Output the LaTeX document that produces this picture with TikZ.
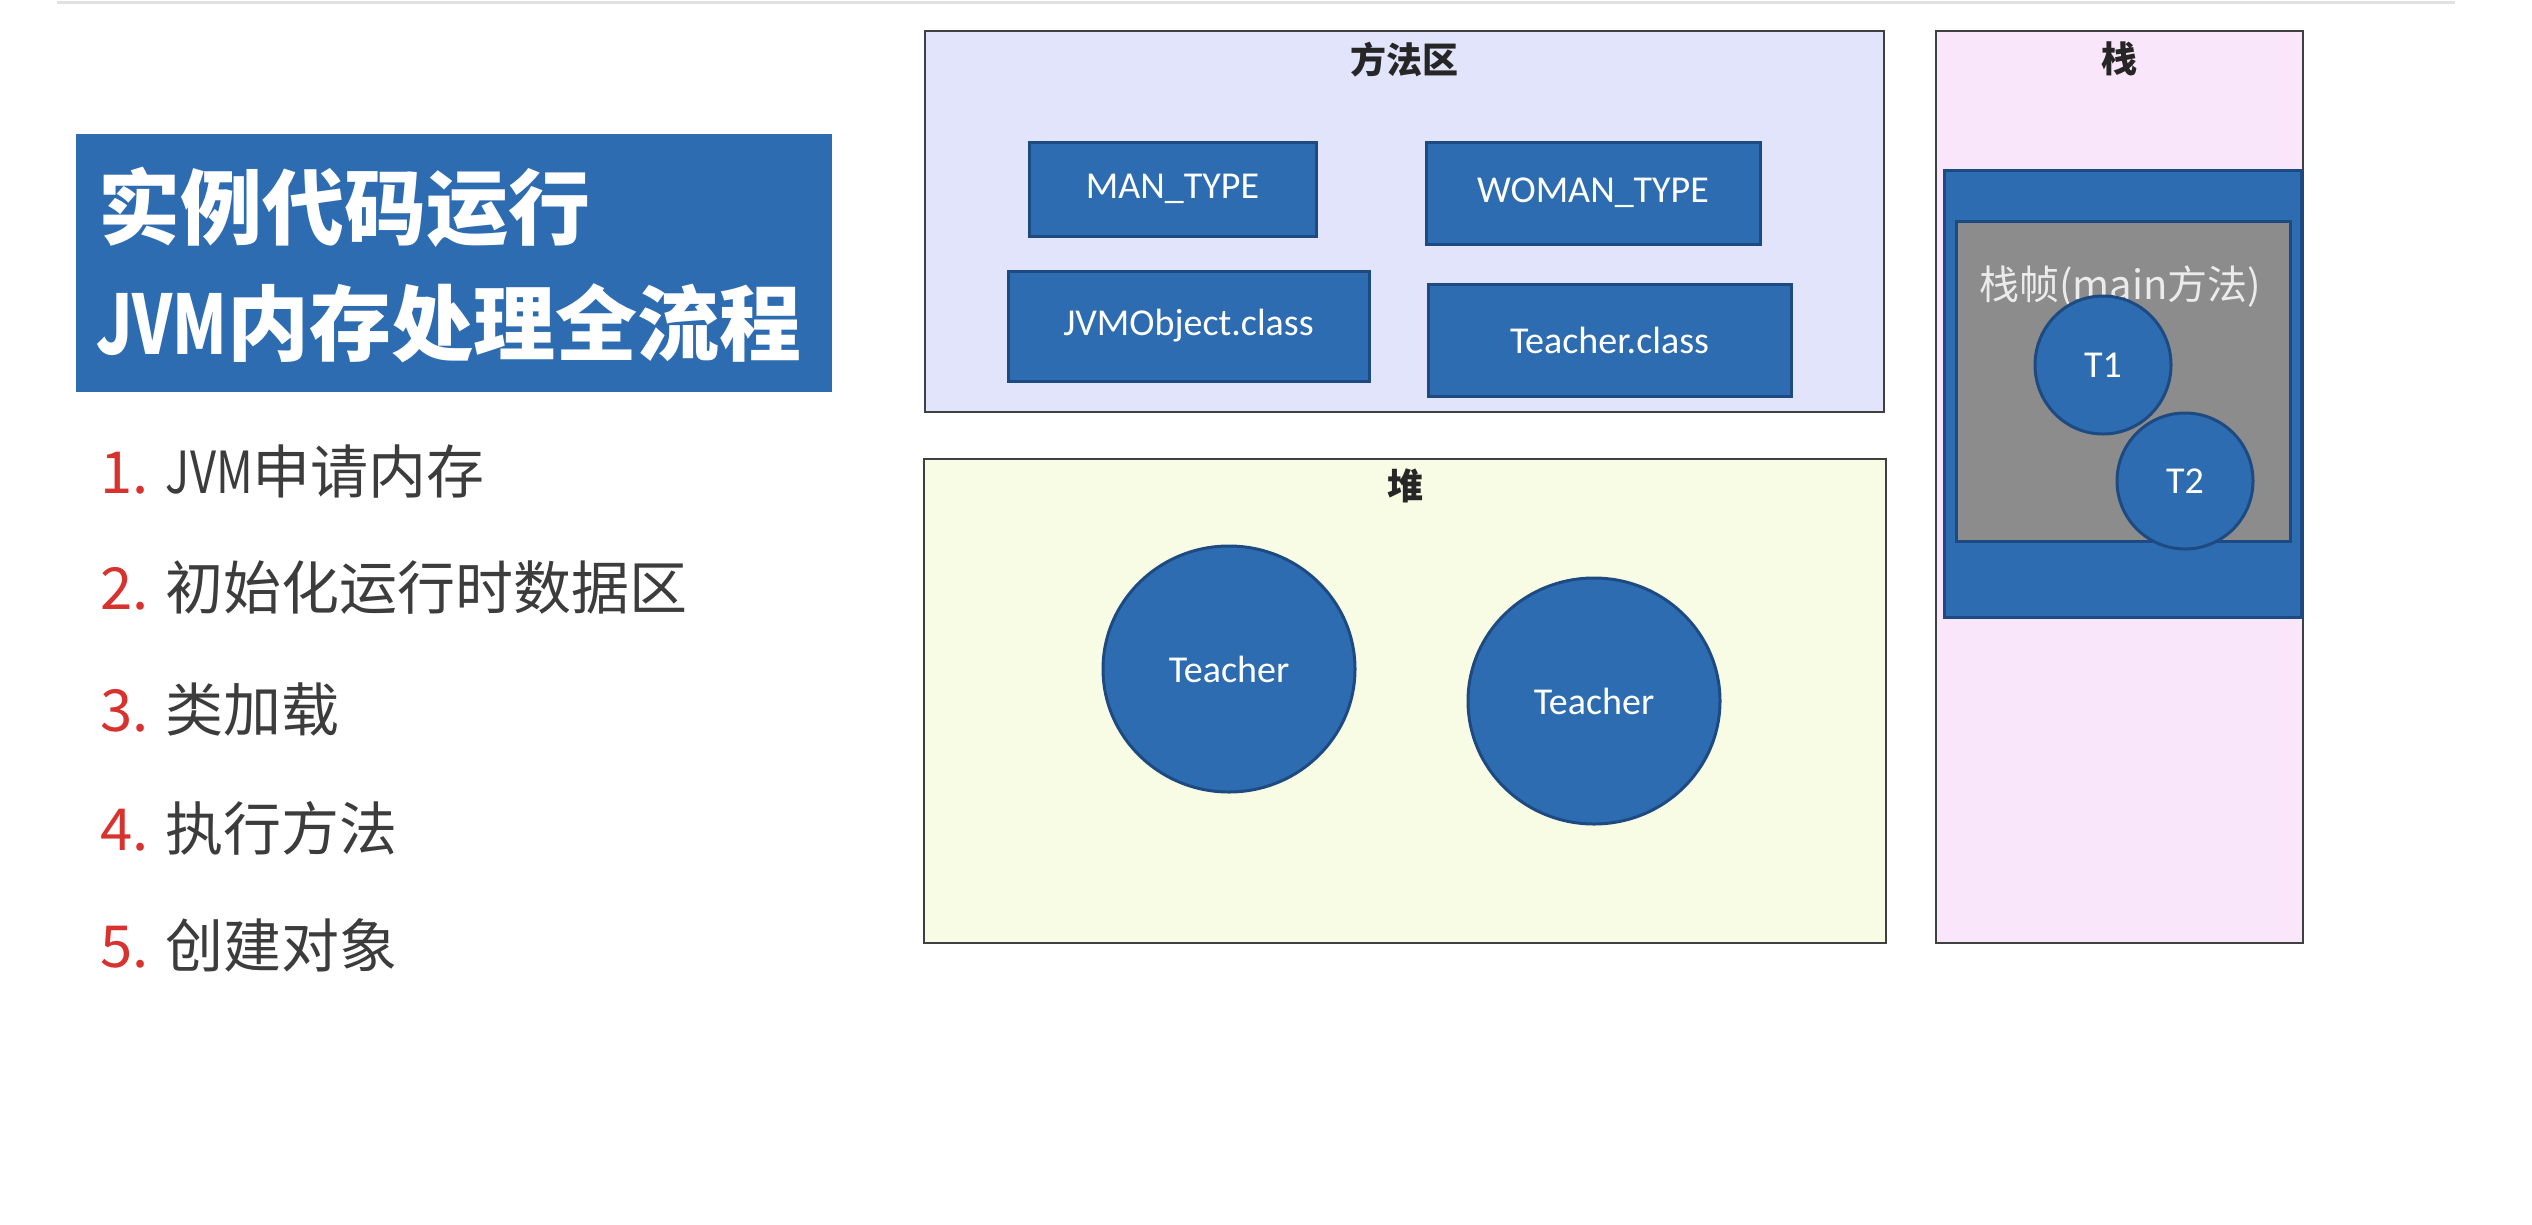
\documentclass[tikz,border=0pt]{standalone}
\usepackage{fontspec}
\setmainfont{Carlito}
\newfontfamily\cjk{Noto Sans CJK SC}
\usetikzlibrary{positioning,shapes.geometric}
\definecolor{jvmblue}{RGB}{46,108,178}
\definecolor{jvmedge}{RGB}{30,74,130}
\definecolor{framegray}{RGB}{140,140,140}
\definecolor{methodfill}{RGB}{225,228,250}
\definecolor{heapfill}{RGB}{249,252,228}
\definecolor{stackfill}{RGB}{250,230,250}
\definecolor{numred}{RGB}{216,50,47}
\definecolor{itemgray}{RGB}{60,60,60}

\begin{document}
\begin{tikzpicture}[x=1pt, y=-1pt]

		\tikzstyle{area} = [draw=black!75, line width=2.5pt, rectangle, inner sep=0pt]
		\tikzstyle{areatitle} = [font=\cjk\bfseries\fontsize{36}{40}\selectfont, text=black!85, inner sep=0pt]
		\tikzstyle{classbox} = [draw=jvmedge, fill=jvmblue, line width=3pt, rectangle, inner sep=0pt, text=white, font=\fontsize{38}{44}\selectfont]
		\tikzstyle{object} = [classbox, ellipse]
		\tikzstyle{item} = [anchor=west, inner sep=0pt, text=itemgray, font=\cjk\fontsize{58}{64}\selectfont]

		\useasboundingbox (0,0) rectangle (2532,1224);
		\draw[black!12, line width=3pt] (57,2) -- (2455,2);

		% title and steps
		\node[fill=jvmblue, rectangle, inner sep=0pt, minimum width=756, minimum height=258] (title) at (454,263) {};
		\node[anchor=west, inner sep=0pt, text=white, font=\cjk\bfseries\fontsize{82}{90}\selectfont] (title_a) at (98,207) {实例代码运行};
		\node[anchor=west, inner sep=0pt, text=white, font=\cjk\bfseries\fontsize{82}{90}\selectfont] (title_b) at (96,323) {\scalebox{.76}[1]{JVM}内存处理全流程};

		\node[item] (step1) at (100,472) {\textcolor{numred}{1.} \scalebox{.78}[1]{JVM}申请内存};
		\node[item] (step2) at (100,588) {\textcolor{numred}{2.} 初始化运行时数据区};
		\node[item] (step3) at (100,709) {\textcolor{numred}{3.} 类加载};
		\node[item] (step4) at (100,828) {\textcolor{numred}{4.} 执行方法};
		\node[item] (step5) at (100,945) {\textcolor{numred}{5.} 创建对象};

		% method area
		\node[area, fill=methodfill, minimum width=959, minimum height=381] (method) at (1404.5,221.5) {};
		\node[areatitle, below=12pt of method.north] (method_t) {方法区};
		\node[classbox, minimum width=287, minimum height=94] (man) at (1172.5,189) {MAN\_TYPE};
		\node[classbox, minimum width=334, minimum height=102] (woman) at (1593,193) {WOMAN\_TYPE};
		\node[classbox, minimum width=361, minimum height=110] (jvmobj) at (1188.5,326) {JVMObject.class};
		\node[classbox, minimum width=363, minimum height=112] (teacher_cls) at (1609.5,340) {Teacher.class};

		% heap
		\node[area, fill=heapfill, minimum width=962, minimum height=484] (heap) at (1405,701) {};
		\node[areatitle, below=11pt of heap.north] (heap_t) {堆};
		\node[object, minimum width=252, minimum height=246] (obj1) at (1229,669) {Teacher};
		\node[object, minimum width=252, minimum height=246] (obj2) at (1594,701) {Teacher};

		% stack
		\node[area, fill=stackfill, minimum width=367, minimum height=912] (stack) at (2119.5,487) {};
		\node[areatitle, below=12pt of stack.north] (stack_t) {栈};
		\node[classbox, minimum width=357, minimum height=447] (thread) at (2122.5,393.5) {};
		\node[draw=jvmedge, fill=framegray, line width=3pt, rectangle, inner sep=0pt, minimum width=334, minimum height=320] (frame) at (2123,381) {};
		\node[inner sep=0pt, text=white!92!black, font=\cjk\fontsize{40}{44}\selectfont] (frame_t) at (2120,286) {栈帧(main方法)};
		\node[object, minimum width=136, minimum height=138] (t1) at (2103,365) {T1};
		\node[object, minimum width=136, minimum height=136] (t2) at (2185,481) {T2};

	\end{tikzpicture}
\end{document}
